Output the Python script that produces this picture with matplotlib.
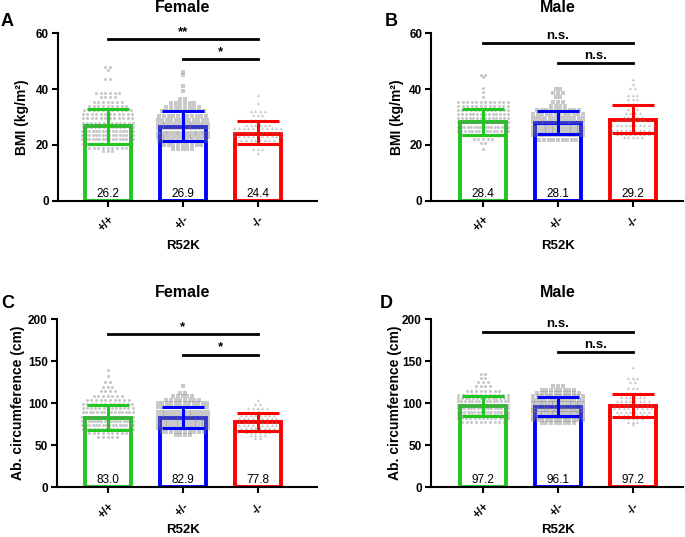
import numpy as np
import matplotlib.pyplot as plt
import matplotlib.transforms as mtransforms

plt.rcParams['font.family'] = ['Liberation Sans', 'DejaVu Sans']

genotypes = ['+/+', '+/-', '-/-']
bar_colors = ['#1ec81e', '#0000ff', '#ff0000']
markers = ['o', 's', '^']

# ---- A: female BMI ----
a_mean = [26.8, 26.5, 24.0]
a_low = [20.5, 21.5, 20.3]
a_high = [33.0, 32.3, 28.6]
a_text = ['26.2', '26.9', '24.4']
a_wt_y = [48.0, 46.8, 43.5, 38.5, 37.0, 35.5, 34.0, 32.5, 31.0, 29.5, 28.0, 26.5, 25.0, 23.5, 22.0, 20.5, 19.0, 17.8]
a_wt_n = [2, 1, 2, 6, 4, 7, 9, 11, 12, 12, 13, 13, 16, 16, 16, 12, 9, 3]
a_het_y = [46.3, 44.9, 41.0, 39.3, 36.3, 35.0, 33.5, 32.0, 30.4, 28.9, 27.5, 25.9, 24.4, 22.9, 21.5, 19.9, 18.4]
a_het_n = [1, 1, 1, 1, 2, 6, 8, 10, 11, 12, 14, 14, 15, 14, 11, 9, 5]
a_hom_y = [38.0, 35.0, 32.2, 30.7, 28.8, 27.2, 26.2, 24.8, 23.2, 21.7, 20.2, 18.7, 17.0]
a_hom_n = [1, 1, 4, 3, 4, 6, 11, 11, 11, 8, 6, 3, 1]

# ---- B: male BMI ----
b_mean = [28.1, 27.8, 28.8]
b_low = [23.5, 24.0, 24.1]
b_high = [33.0, 32.0, 34.2]
b_text = ['28.4', '28.1', '29.2']
b_wt_y = [45.0, 44.3, 40.3, 38.8, 37.2, 35.5, 34.0, 32.5, 31.1, 29.5, 28.1, 26.5, 25.1, 23.6, 22.2, 20.6, 18.4]
b_wt_n = [2, 1, 1, 1, 1, 12, 12, 13, 14, 14, 15, 16, 15, 10, 5, 2, 1]
b_het_y = [39.9, 38.5, 37.0, 35.5, 33.9, 32.5, 31.1, 29.5, 28.1, 26.5, 25.1, 23.5, 21.7]
b_het_n = [2, 3, 2, 3, 4, 10, 12, 13, 14, 15, 15, 14, 9]
b_hom_y = [43.5, 42.0, 40.5, 38.0, 36.3, 34.5, 33.0, 31.5, 30.0, 28.8, 27.0, 25.5, 24.0, 22.8]
b_hom_n = [1, 1, 2, 3, 3, 3, 3, 4, 5, 8, 10, 10, 8, 5]

# ---- C: female abdominal circumference ----
c_mean = [82.7, 82.7, 77.1]
c_low = [67.6, 70.0, 66.4]
c_high = [98.2, 95.8, 88.7]
c_text = ['83.0', '82.9', '77.8']
c_wt_y = [139, 132, 125, 119, 114, 109, 104, 99, 94, 89, 84, 79, 74, 69, 64, 60]
c_wt_n = [1, 1, 2, 3, 4, 7, 10, 12, 13, 15, 16, 17, 16, 14, 11, 5]
c_het_y = [120, 112, 108, 104, 100, 95, 90, 85, 80, 75, 70, 66, 62]
c_het_n = [1, 2, 5, 8, 12, 12, 14, 14, 15, 15, 14, 10, 4]
c_hom_y = [104, 99, 94, 90, 86, 82, 78, 74, 70, 66, 62, 58]
c_hom_n = [1, 2, 5, 7, 8, 9, 9, 9, 8, 6, 4, 2]

# ---- D: male abdominal circumference ----
d_mean = [96.6, 95.4, 96.6]
d_low = [85.1, 85.1, 83.1]
d_high = [108.9, 106.9, 111.3]
d_text = ['97.2', '96.1', '97.2']
d_wt_y = [135, 130, 125, 120, 115, 110, 106, 102, 98, 94, 90, 86, 82, 78]
d_wt_n = [2, 2, 3, 4, 8, 12, 14, 15, 16, 16, 16, 15, 13, 10]
d_het_y = [120, 116, 112, 108, 104, 100, 96, 92, 88, 84, 80, 76]
d_het_n = [3, 8, 10, 12, 13, 15, 16, 16, 15, 14, 12, 8]
d_hom_y = [143, 130, 125, 118, 112, 107, 102, 98, 94, 90, 86, 82, 78, 75]
d_hom_n = [1, 3, 2, 3, 4, 6, 8, 9, 9, 8, 7, 5, 3, 1]

# significance brackets: (y of long line, y of short line, labels)
a_sig = [57.8, 50.7, '**', '*']
b_sig = [56.4, 49.2, 'n.s.', 'n.s.']
c_sig = [182, 158, '*', '*']
d_sig = [185, 161, 'n.s.', 'n.s.']

W, H = 685, 537
fig = plt.figure(figsize=(W / 100, H / 100), dpi=100)


def px_rect(x0, x1, ytop, ybot):
    return [x0 / W, (H - ybot) / H, (x1 - x0) / W, (ybot - ytop) / H]


def draw_panel(ax, mean, low, high, texts, rows, ymax, yticks, sig, xlim):
    x = np.arange(3)
    ax.bar(x, mean, width=0.61, facecolor='white', edgecolor=bar_colors,
           linewidth=2.8, zorder=1)
    # scatter rows, GraphPad style
    for i, (ys, ns) in enumerate(rows):
        px, py = [], []
        for yv, n in zip(ys, ns):
            sp = min(0.062, 0.72 / n)
            for k in range(n):
                px.append(i + (k - (n - 1) / 2) * sp)
                py.append(yv)
        ax.scatter(px, py, s=5, marker=markers[i], color='#808080', alpha=0.42,
                   linewidths=0, zorder=2)
    for i in range(3):
        ax.errorbar(i, mean[i], yerr=[[mean[i] - low[i]], [high[i] - mean[i]]],
                    color=bar_colors[i], elinewidth=2.2, capsize=15, capthick=2.2,
                    zorder=3)
    trans = mtransforms.blended_transform_factory(ax.transData, ax.transAxes)
    for i in range(3):
        ax.annotate(texts[i], (i, 0), xycoords=trans, xytext=(0, 0.5),
                    textcoords='offset points', ha='center', va='bottom',
                    fontsize=8.5, zorder=4)
    # significance lines
    ax.plot([0, 2], [sig[0], sig[0]], color='black', lw=2, clip_on=False)
    ax.plot([1, 2], [sig[1], sig[1]], color='black', lw=2, clip_on=False)
    ax.annotate(sig[2], (1, sig[0]), xytext=(0, 1), textcoords='offset points',
                ha='center', va='bottom', fontsize=9.5, fontweight='bold')
    ax.annotate(sig[3], (1.5, sig[1]), xytext=(0, 1), textcoords='offset points',
                ha='center', va='bottom', fontsize=9.5, fontweight='bold')

    ax.set_xlim(*xlim)
    ax.set_ylim(0, ymax)
    ax.set_yticks(yticks)
    ax.set_xticks(x)
    ax.set_xticklabels(genotypes, rotation=45, ha='right', va='top',
                       rotation_mode='anchor')
    for lab in ax.get_xticklabels() + ax.get_yticklabels():
        lab.set_fontweight('bold')
        lab.set_fontsize(8.5)
    ax.tick_params(axis='both', width=1.5, length=4.5, pad=2)
    ax.tick_params(axis='x', pad=5)
    for s in ['top', 'right']:
        ax.spines[s].set_visible(False)
    for s in ['left', 'bottom']:
        ax.spines[s].set_linewidth(1.5)


axA = fig.add_axes(px_rect(58, 317, 33.3, 200.7))
draw_panel(axA, a_mean, a_low, a_high, a_text,
           [(a_wt_y, a_wt_n), (a_het_y, a_het_n), (a_hom_y, a_hom_n)],
           60, [0, 20, 40, 60], a_sig, (-0.663, 2.79))
axB = fig.add_axes(px_rect(431.3, 683, 33.3, 200.7))
draw_panel(axB, b_mean, b_low, b_high, b_text,
           [(b_wt_y, b_wt_n), (b_het_y, b_het_n), (b_hom_y, b_hom_n)],
           60, [0, 20, 40, 60], b_sig, (-0.69, 2.67))
axC = fig.add_axes(px_rect(56.7, 317, 319.3, 487))
draw_panel(axC, c_mean, c_low, c_high, c_text,
           [(c_wt_y, c_wt_n), (c_het_y, c_het_n), (c_hom_y, c_hom_n)],
           200, [0, 50, 100, 150, 200], c_sig, (-0.68, 2.79))
axD = fig.add_axes(px_rect(430.7, 683, 319.3, 487))
draw_panel(axD, d_mean, d_low, d_high, d_text,
           [(d_wt_y, d_wt_n), (d_het_y, d_het_n), (d_hom_y, d_hom_n)],
           200, [0, 50, 100, 150, 200], d_sig, (-0.697, 2.67))


def ftext(x, y, s, **kw):
    fig.text(x / W, 1 - y / H, s, **kw)


# titles, letters, axis labels
for x, y, s in [(183, 7.5, 'Female'), (558, 7.5, 'Male'),
                (183, 292.5, 'Female'), (558, 292.5, 'Male')]:
    ftext(x, y, s, ha='center', va='center', fontsize=11.5, fontweight='bold')
for x, y, s in [(7.5, 21.7, 'A'), (391, 21.7, 'B'),
                (7.5, 304, 'C'), (386, 304, 'D')]:
    ftext(x, y, s, ha='center', va='center', fontsize=13, fontweight='bold')
for x, y in [(183, 246), (558, 246), (183, 530), (558, 530)]:
    ftext(x, y, 'R52K', ha='center', va='center', fontsize=9.5, fontweight='bold')
ftext(22, 117, 'BMI (kg/m²)', ha='center', va='center', rotation=90,
      fontsize=10, fontweight='bold')
ftext(397, 117, 'BMI (kg/m²)', ha='center', va='center', rotation=90,
      fontsize=10, fontweight='bold')
ftext(18, 403, 'Ab. circumference (cm)', ha='center', va='center', rotation=90,
      fontsize=10, fontweight='bold')
ftext(395, 403, 'Ab. circumference (cm)', ha='center', va='center', rotation=90,
      fontsize=10, fontweight='bold')

fig.savefig('out.png', dpi=100)
